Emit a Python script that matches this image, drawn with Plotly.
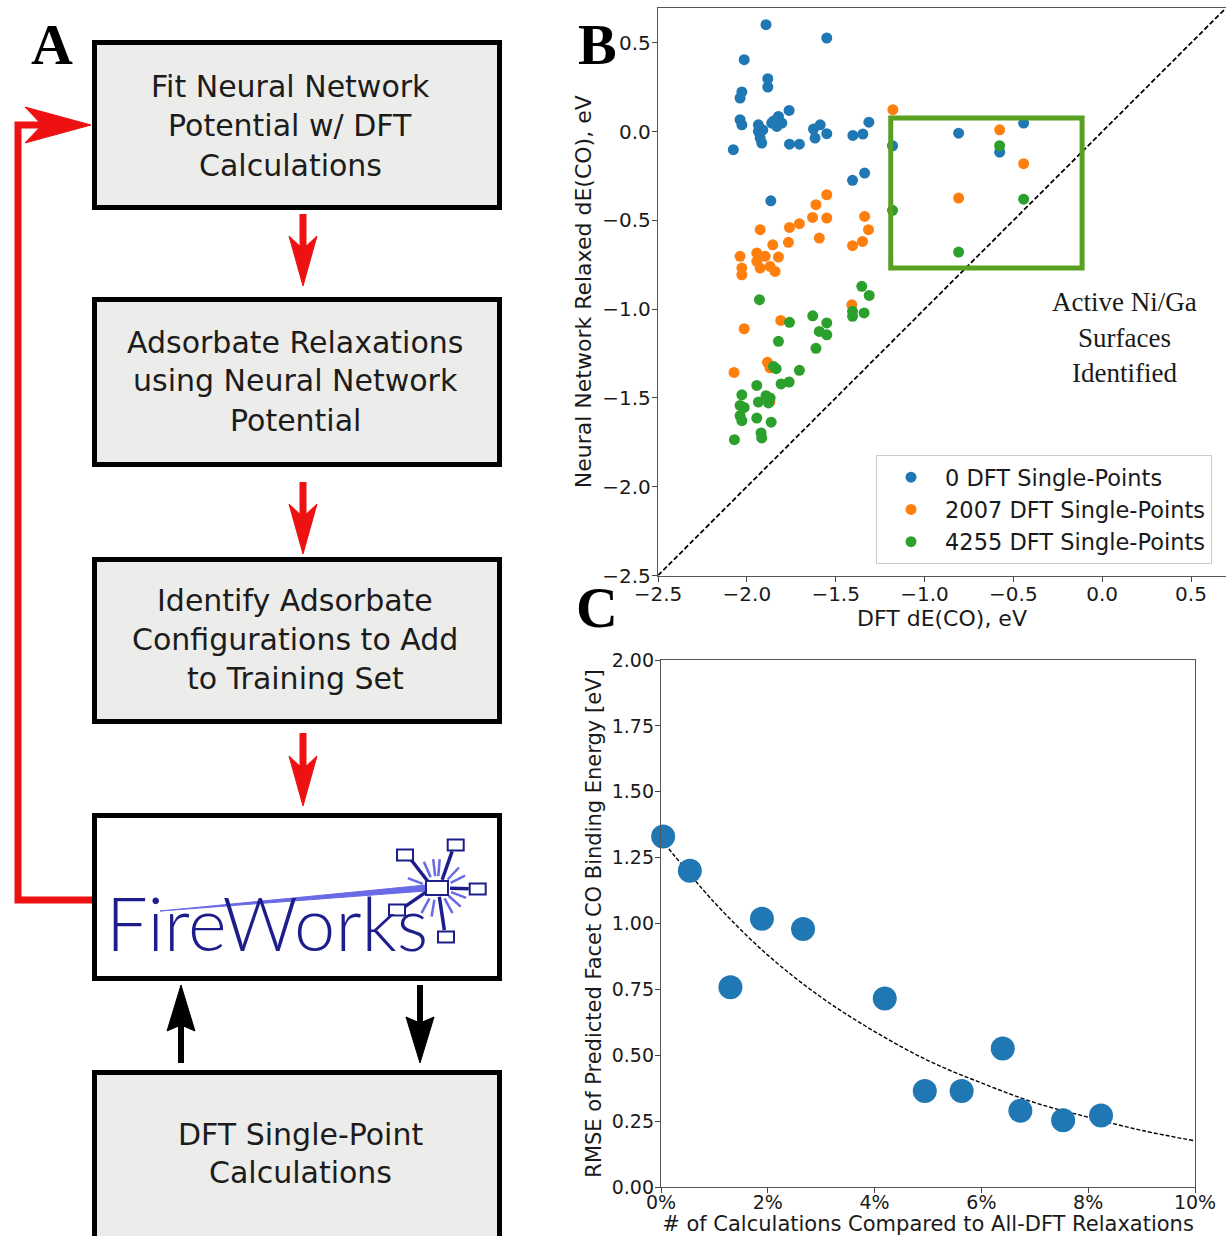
import math
import plotly.graph_objects as go

W, H = 1226, 1236

# ---------------- Panel B data (DFT vs NN relaxed dE(CO), eV) ----------------
series_names = ["0 DFT Single-Points", "2007 DFT Single-Points", "4255 DFT Single-Points"]
series_colors = ["#1f77b4", "#ff7f0e", "#2ca02c"]

blue_x = [-1.892, -1.55, -2.015, -1.882, -1.882, -2.028, -2.038, -2.038, -2.028, -1.935,
          -1.935, -1.925, -1.916, -1.86, -1.822, -1.831, -1.803, -1.762, -1.76, -1.704,
          -1.625, -1.587, -1.616, -1.55, -1.403, -1.347, -1.313, -2.076, -1.405, -1.337,
          -1.865, -1.18, -0.808, -0.442, -0.577, -1.91, -1.85]
blue_y = [0.603, 0.528, 0.406, 0.299, 0.252, 0.224, 0.19, 0.068, 0.039, 0.039,
          0.002, -0.036, -0.064, 0.049, 0.086, 0.03, 0.049, 0.12, -0.07, -0.07,
          0.015, 0.039, -0.036, -0.011, -0.021, -0.013, 0.054, -0.101, -0.274, -0.233,
          -0.389, -0.079, -0.008, 0.049, -0.115, 0.01, 0.06]

orange_x = [-1.178, -1.55, -1.611, -1.63, -1.55, -1.337, -1.315, -1.349, -1.405, -1.592,
            -1.704, -1.76, -1.925, -1.766, -1.854, -1.822, -2.038, -2.028, -2.028, -1.944,
            -1.944, -1.925, -1.897, -1.869, -1.841, -0.577, -0.442, -0.808, -2.015, -1.809,
            -1.409, -1.884, -2.072, -1.87, -1.87]
orange_y = [0.124, -0.355, -0.411, -0.483, -0.486, -0.477, -0.552, -0.618, -0.642, -0.599,
            -0.518, -0.539, -0.552, -0.623, -0.637, -0.706, -0.702, -0.768, -0.806, -0.683,
            -0.73, -0.768, -0.702, -0.759, -0.787, 0.011, -0.18, -0.374, -1.11, -1.063,
            -0.975, -1.299, -1.356, -1.33, -1.52]

green_x = [-1.353, -1.311, -1.929, -1.76, -1.629, -1.55, -1.592, -1.55, -1.611, -1.822,
           -1.405, -1.405, -1.34, -1.85, -1.835, -1.704, -1.807, -1.762, -1.944, -2.028,
           -2.038, -2.015, -1.935, -1.892, -1.869, -1.878, -2.038, -2.028, -1.944, -1.863,
           -2.07, -1.92, -1.916, -0.577, -0.442, -1.18, -0.808]
green_y = [-0.871, -0.922, -0.946, -1.074, -1.037, -1.077, -1.125, -1.144, -1.22, -1.181,
           -1.012, -1.04, -1.021, -1.322, -1.335, -1.344, -1.421, -1.41, -1.429, -1.482,
           -1.542, -1.553, -1.523, -1.487, -1.50, -1.528, -1.60, -1.628, -1.613, -1.636,
           -1.735, -1.697, -1.725, -0.079, -0.38, -0.443, -0.678]

b_ticks = [-2.5, -2.0, -1.5, -1.0, -0.5, 0.0, 0.5]
b_ticklabels = ["\u22122.5", "\u22122.0", "\u22121.5", "\u22121.0", "\u22120.5", "0.0", "0.5"]
b_range = [-2.5, 0.697]
parity_line = [-2.5, 0.75]
active_box_x = [-1.19, -0.113]
active_box_y = [-0.768, 0.077]

# ---------------- Panel C data ----------------
c_x = [0.04, 0.54, 1.30, 1.89, 2.66, 4.19, 4.94, 5.63, 6.40, 6.73, 7.53, 8.24]
c_y = [1.33, 1.20, 0.758, 1.018, 0.979, 0.715, 0.364, 0.364, 0.526, 0.289, 0.253, 0.271]
fit_x = [0, 1, 2, 3, 4, 5, 6, 7, 8, 9, 10]
fit_y = [1.32, 1.08, 0.88, 0.72, 0.59, 0.48, 0.395, 0.32, 0.265, 0.215, 0.175]
c_xticks = [0, 2, 4, 6, 8, 10]
c_xticklabels = ["0%", "2%", "4%", "6%", "8%", "10%"]
c_yticks = [0, 0.25, 0.5, 0.75, 1.0, 1.25, 1.5, 1.75, 2.0]
c_yticklabels = ["0.00", "0.25", "0.50", "0.75", "1.00", "1.25", "1.50", "1.75", "2.00"]

# ---------------- Panel A flowchart text ----------------
box_texts = [
    ["Fit Neural Network", "Potential w/ DFT", "Calculations"],
    ["Adsorbate Relaxations", "using Neural Network", "Potential"],
    ["Identify Adsorbate", "Configurations to Add", "to Training Set"],
    ["DFT Single-Point", "Calculations"],
]


def PX(x):
    return x / W


def PY(y):
    return 1 - y / H


def path_str(pts, close=True):
    s = "M " + " L ".join(f"{PX(x):.5f},{PY(y):.5f}" for x, y in pts)
    return s + (" Z" if close else "")


shapes = []
annotations = []

# ---- flowchart boxes ----
box_geom = [(40, 210, "#ececea"), (297, 467, "#ececea"), (557, 724, "#ececea"),
            (813, 981, "#ffffff"), (1070, 1250, "#ececea")]
for top, bot, fill in box_geom:
    shapes.append(dict(type="rect", xref="paper", yref="paper",
                       x0=PX(94.5), x1=PX(499.5), y0=PY(top + 2.5), y1=PY(bot - 2.5),
                       line=dict(color="black", width=5), fillcolor=fill, layer="below"))

RED = "#ee1111"


def v_arrow(x, y_start, y_tip, color, shaft_w=7, head_w=28, head_len=50, notch=13):
    d = 1 if y_tip > y_start else -1
    base = y_tip - d * head_len
    shapes.append(dict(type="line", xref="paper", yref="paper",
                       x0=PX(x), x1=PX(x), y0=PY(y_start), y1=PY(base + d * notch),
                       line=dict(color=color, width=shaft_w)))
    shapes.append(dict(type="path", xref="paper", yref="paper",
                       path=path_str([(x, y_tip), (x - head_w / 2, base), (x, base + d * notch),
                                      (x + head_w / 2, base)]),
                       fillcolor=color, line=dict(color=color, width=1)))


v_arrow(303, 214, 286, RED)
v_arrow(303, 482, 554, RED)
v_arrow(303, 733, 806, RED)
v_arrow(181, 1063, 985, "black", shaft_w=6, head_w=28, head_len=46, notch=6)
v_arrow(420, 985, 1063, "black", shaft_w=6, head_w=28, head_len=46, notch=6)

# feedback loop
shapes.append(dict(type="path", xref="paper", yref="paper",
                   path=path_str([(92, 900), (18, 900), (18, 125), (45, 125)], close=False),
                   line=dict(color=RED, width=7)))
shapes.append(dict(type="path", xref="paper", yref="paper",
                   path=path_str([(91, 125), (25, 107), (42, 125), (25, 143)]),
                   fillcolor=RED, line=dict(color=RED, width=1)))

# box texts
text_font = dict(family="DejaVu Sans", size=30, color="#1c1c1c")
line_pos = [(290, [87, 126, 165]), (295, [342, 381, 420]), (295, [600, 639, 678]),
            (300, [1134, 1172])]
for lines, (cx, ys) in zip(box_texts, line_pos):
    for t, yy in zip(lines, ys):
        annotations.append(dict(x=PX(cx), y=PY(yy), xref="paper", yref="paper", text=t,
                                showarrow=False, xanchor="center", yanchor="middle",
                                font=text_font))

# ---- FireWorks logo ----
NAVY = "#1d1d8c"
LIGHT = "#6a6ae6"
hub = (437, 888)
shapes.append(dict(type="path", xref="paper", yref="paper",
                   path=path_str([(160, 911), (426, 885), (426, 891)]),
                   fillcolor=LIGHT, line=dict(color=LIGHT, width=1)))
for ang in [-160, -115, -97, -85, -45, -25, 20, 40, 60, 100, 120, 175]:
    a = math.radians(ang)
    shapes.append(dict(type="line", xref="paper", yref="paper",
                       x0=PX(hub[0] + 15 * math.cos(a)), y0=PY(hub[1] + 12 * math.sin(a)),
                       x1=PX(hub[0] + 31 * math.cos(a)), y1=PY(hub[1] + 29 * math.sin(a)),
                       line=dict(color=LIGHT, width=2.5)))
sats = [(405, 855), (455.7, 845), (477.7, 889), (397, 910), (446, 937)]
for sx, sy in sats:
    dx, dy = sx - hub[0], sy - hub[1]
    dist = math.hypot(dx, dy)
    ux, uy = dx / dist, dy / dist
    shapes.append(dict(type="line", xref="paper", yref="paper",
                       x0=PX(hub[0] + ux * 13), y0=PY(hub[1] + uy * 9),
                       x1=PX(sx - ux * 9), y1=PY(sy - uy * 7),
                       line=dict(color=NAVY, width=3.5)))
    shapes.append(dict(type="rect", xref="paper", yref="paper",
                       x0=PX(sx - 8), x1=PX(sx + 8), y0=PY(sy + 5.5), y1=PY(sy - 5.5),
                       line=dict(color=NAVY, width=2), fillcolor="white"))
shapes.append(dict(type="rect", xref="paper", yref="paper",
                   x0=PX(hub[0] - 11), x1=PX(hub[0] + 11), y0=PY(hub[1] + 7), y1=PY(hub[1] - 7),
                   line=dict(color=NAVY, width=2), fillcolor="white"))
annotations.append(dict(x=PX(104), y=PY(955), xref="paper", yref="paper", text="FireWorks",
                        showarrow=False, xanchor="left", yanchor="bottom", yshift=-14,
                        font=dict(family="Lato", size=74, color=NAVY, weight=300)))

# ---- panel letters ----
letter_font = dict(family="Liberation Serif", size=58, color="black", weight="bold")
for t, x, y in [("A", 52, 45), ("B", 597, 45), ("C", 597, 607)]:
    annotations.append(dict(x=PX(x), y=PY(y), xref="paper", yref="paper", text=t,
                            showarrow=False, xanchor="center", yanchor="middle", font=letter_font))

# ---- panel B annotation ----
for t, yy in [("Active Ni/Ga", 302), ("Surfaces", 338), ("Identified", 373)]:
    annotations.append(dict(x=PX(1124), y=PY(yy), xref="paper", yref="paper", text=t,
                            showarrow=False, xanchor="center", yanchor="middle",
                            font=dict(family="Liberation Serif", size=27, color="#1a1a1a")))

# active box (data coordinates)
shapes.append(dict(type="rect", xref="x", yref="y",
                   x0=active_box_x[0], x1=active_box_x[1], y0=active_box_y[0], y1=active_box_y[1],
                   line=dict(color="#58a01f", width=5), fillcolor="rgba(0,0,0,0)", layer="above"))

fig = go.Figure()
fig.add_trace(go.Scatter(x=parity_line, y=parity_line, mode="lines", showlegend=False,
                         line=dict(color="black", width=1.8, dash="5px,2.5px"),
                         xaxis="x", yaxis="y", hoverinfo="skip"))
for i, (xs, ys, nm, col) in enumerate(zip([blue_x, orange_x, green_x], [blue_y, orange_y, green_y],
                                          series_names, series_colors)):
    fig.add_trace(go.Scatter(x=xs, y=ys, mode="markers", name=nm, legendgroup=f"g{i}",
                             marker=dict(color=col, size=11), xaxis="x", yaxis="y"))
fig.add_trace(go.Scatter(x=fit_x, y=fit_y, mode="lines", showlegend=False,
                         line=dict(color="black", width=1.4, dash="4px,2px", shape="spline"),
                         xaxis="x2", yaxis="y2", hoverinfo="skip"))
fig.add_trace(go.Scatter(x=c_x, y=c_y, mode="markers", showlegend=False, cliponaxis=False,
                         marker=dict(color="#1f77b4", size=24), xaxis="x2", yaxis="y2"))

axis_common = dict(showline=True, linecolor="#555555", linewidth=1.3, ticks="outside",
                   ticklen=5, tickwidth=1.2, tickcolor="#444444", showgrid=False,
                   zeroline=False, color="#1a1a1a", automargin=False)

fig.update_layout(
    width=W, height=H, autosize=False,
    margin=dict(l=0, r=0, t=0, b=0, pad=0),
    paper_bgcolor="white", plot_bgcolor="white",
    font=dict(family="DejaVu Sans", color="#1a1a1a"),
    xaxis=dict(domain=[658 / W, 1.0], range=b_range, anchor="y", mirror=True,
               tickvals=b_ticks, ticktext=b_ticklabels, tickfont=dict(size=20),
               ticklabelstandoff=-5,
               title=dict(text="DFT dE(CO), eV", font=dict(size=22), standoff=0),
               **axis_common),
    yaxis=dict(domain=[1 - 575.5 / H, 1 - 8 / H], range=b_range, anchor="x", mirror=False,
               tickvals=b_ticks, ticktext=b_ticklabels, tickfont=dict(size=20),
               ticklabelstandoff=-3,
               title=dict(text="Neural Network Relaxed dE(CO), eV", font=dict(size=22), standoff=4),
               **axis_common),
    xaxis2=dict(domain=[661 / W, 1195 / W], range=[0, 10], anchor="y2", mirror=True,
                tickvals=c_xticks, ticktext=c_xticklabels, tickfont=dict(size=19),
                ticklabelstandoff=-7,
                title=dict(text="# of Calculations Compared to All-DFT Relaxations",
                           font=dict(size=21), standoff=1),
                **axis_common),
    yaxis2=dict(domain=[1 - 1187 / H, 1 - 660 / H], range=[0, 2], anchor="x2", mirror=True,
                tickvals=c_yticks, ticktext=c_yticklabels, tickfont=dict(size=19),
                ticklabelstandoff=-3,
                title=dict(text="RMSE of Predicted Facet CO Binding Energy [eV]",
                           font=dict(size=21), standoff=4),
                **axis_common),
    legend=dict(x=876 / W, y=1 - 455 / H, xanchor="left", yanchor="top",
                bgcolor="white", bordercolor="#cccccc", borderwidth=1,
                font=dict(size=22.5, family="DejaVu Sans", color="#1a1a1a"),
                itemwidth=58, tracegroupgap=0),
    shapes=shapes,
    annotations=annotations,
    showlegend=True,
)

fig.write_html("out.html")
